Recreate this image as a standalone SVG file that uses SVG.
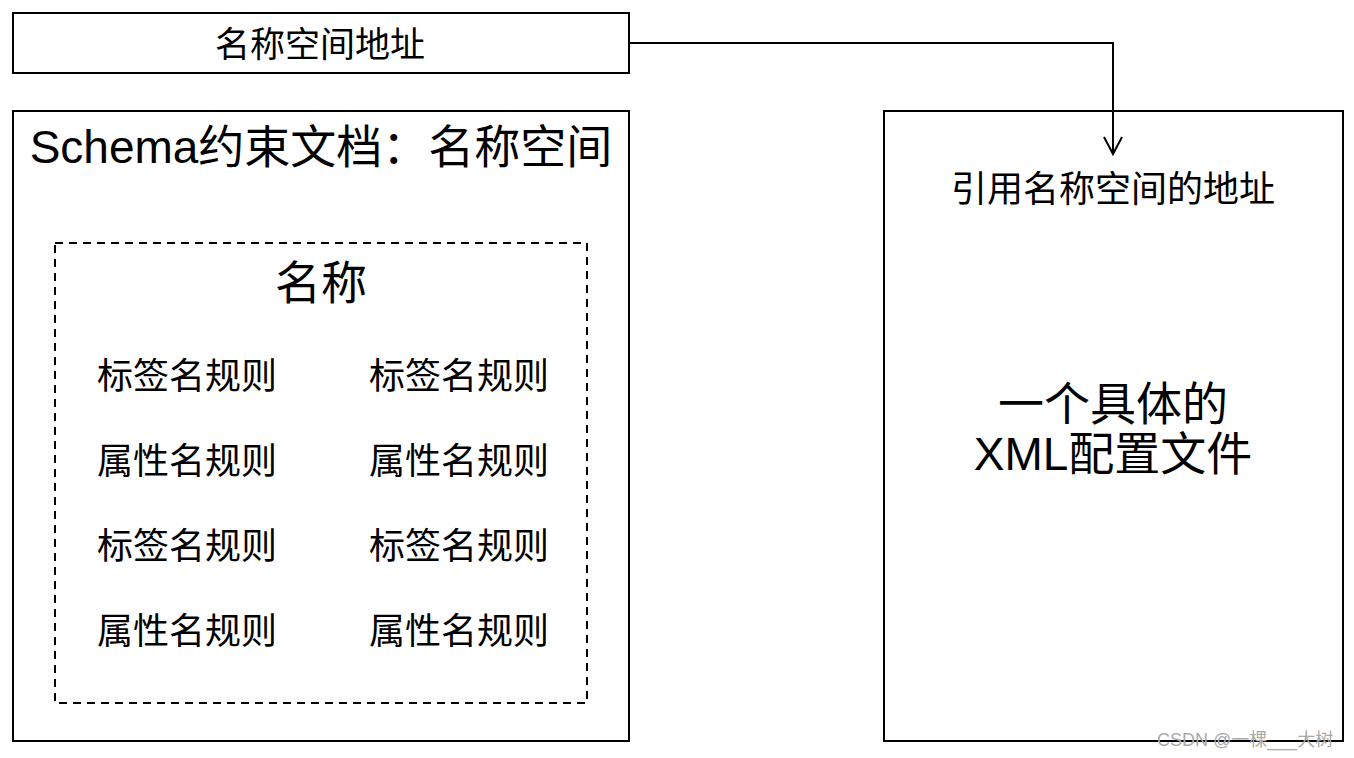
<svg xmlns="http://www.w3.org/2000/svg" width="1354" height="758" viewBox="0 0 1354 758">
<style>
.box{fill:#fff;stroke:#000;stroke-width:2}
.dash{fill:none;stroke:#000;stroke-width:2;stroke-dasharray:8 6}
.t{font-family:"Liberation Sans","Noto Sans CJK SC",sans-serif;fill:#000;text-anchor:middle}
.conn{fill:none;stroke:#000;stroke-width:2}
.wm{font-family:"Liberation Sans","Noto Sans CJK SC",sans-serif;fill:#aaa;font-size:18px}
</style>
<rect width="1354" height="758" fill="#fff"/>
<g id="ns-address">
<rect class="box" x="13" y="13" width="616" height="60"/>
<text class="t" x="320" y="57" font-size="35">名称空间地址</text>
</g>
<g id="schema-doc">
<rect class="box" x="13" y="111" width="616" height="630"/>
<text class="t" x="321" y="163" font-size="46">Schema约束文档：名称空间</text>
</g>
<g id="name-group">
<rect class="dash" x="55" y="243" width="532" height="460"/>
<text class="t" x="321" y="299" font-size="46">名称</text>
<text class="t" x="187" y="389" font-size="36">标签名规则</text>
<text class="t" x="459" y="389" font-size="36">标签名规则</text>
<text class="t" x="187" y="474" font-size="36">属性名规则</text>
<text class="t" x="459" y="474" font-size="36">属性名规则</text>
<text class="t" x="187" y="559" font-size="36">标签名规则</text>
<text class="t" x="459" y="559" font-size="36">标签名规则</text>
<text class="t" x="187" y="644" font-size="36">属性名规则</text>
<text class="t" x="459" y="644" font-size="36">属性名规则</text>
</g>
<g id="xml-file">
<rect class="box" x="884" y="111" width="459" height="630"/>
<text class="t" x="1113" y="202" font-size="36">引用名称空间的地址</text>
<text class="t" x="1113" y="420" font-size="46">一个具体的</text>
<text class="t" x="1113" y="470" font-size="46">XML配置文件</text>
</g>
<g id="connectors">
<path class="conn" d="M629 43 H1113 V154"/>
<path class="conn" d="M1104 137 L1113 154 L1122 137"/>
</g>
<text class="wm" x="1157" y="746">CSDN @一棵___大树</text>
</svg>
